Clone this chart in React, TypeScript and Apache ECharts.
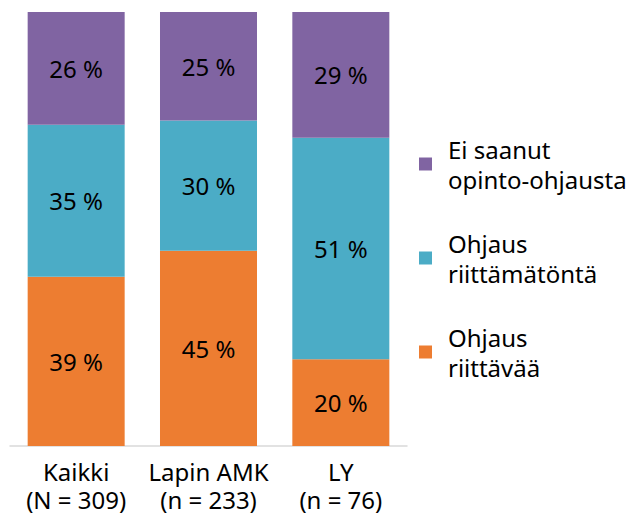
import React, { useEffect, useRef } from "react";
import * as echarts from "echarts";

const categories = ["Kaikki\n(N = 309)", "Lapin AMK\n(n = 233)", "LY\n(n = 76)"];
const seriesNames = ["Ohjaus\nriittävää", "Ohjaus\nriittämätöntä", "Ei saanut\nopinto-ohjausta"];
const riittava = [39, 45, 20];
const riittamaton = [35, 30, 51];
const eiSaanut = [26, 25, 29];
const colors = ["#ED7D31", "#4BACC6", "#8064A2"];

const FONT = "'Noto Sans', 'Open Sans', sans-serif";

export default function App() {
  const ref = useRef<HTMLDivElement>(null);
  useEffect(() => {
    if (!ref.current) return;
    const chart = echarts.init(ref.current, null, { renderer: "svg" });
    const values = [riittava, riittamaton, eiSaanut];
    chart.setOption({
      animation: false,
      textStyle: { fontFamily: FONT },
      grid: { left: 2, width: 397, top: 4, bottom: 72, containLabel: false },
      xAxis: {
        type: "category",
        data: categories,
        axisLine: { show: true, lineStyle: { color: "#d9d9d9", width: 1.5 } },
        axisTick: { show: false },
        axisLabel: {
          color: "#000",
          fontSize: 24,
          lineHeight: 28,
          margin: 11,
          fontFamily: FONT,
          interval: 0,
        },
      },
      yAxis: { type: "value", min: 0, max: 100, show: false },
      legend: {
        orient: "vertical",
        left: 411,
        top: 126,
        padding: 0,
        itemWidth: 13,
        itemHeight: 13,
        itemGap: 34,
        icon: "rect",
        data: [seriesNames[2], seriesNames[1], seriesNames[0]],
        textStyle: {
          color: "#000",
          fontSize: 24,
          lineHeight: 30,
          fontFamily: FONT,
          padding: [0, 0, 0, 11],
        },
      },
      series: values.map((v, i) => ({
        name: seriesNames[i],
        type: "bar",
        stack: "total",
        data: v,
        barCategoryGap: "26.7%",
        itemStyle: { color: colors[i] },
        label: {
          show: true,
          position: "inside",
          formatter: "{c} %",
          color: "#000",
          fontSize: 24,
          fontFamily: FONT,
        },
      })),
    });
    return () => chart.dispose();
  }, []);
  return <div ref={ref} style={{ width: 620, height: 510 }} />;
}
